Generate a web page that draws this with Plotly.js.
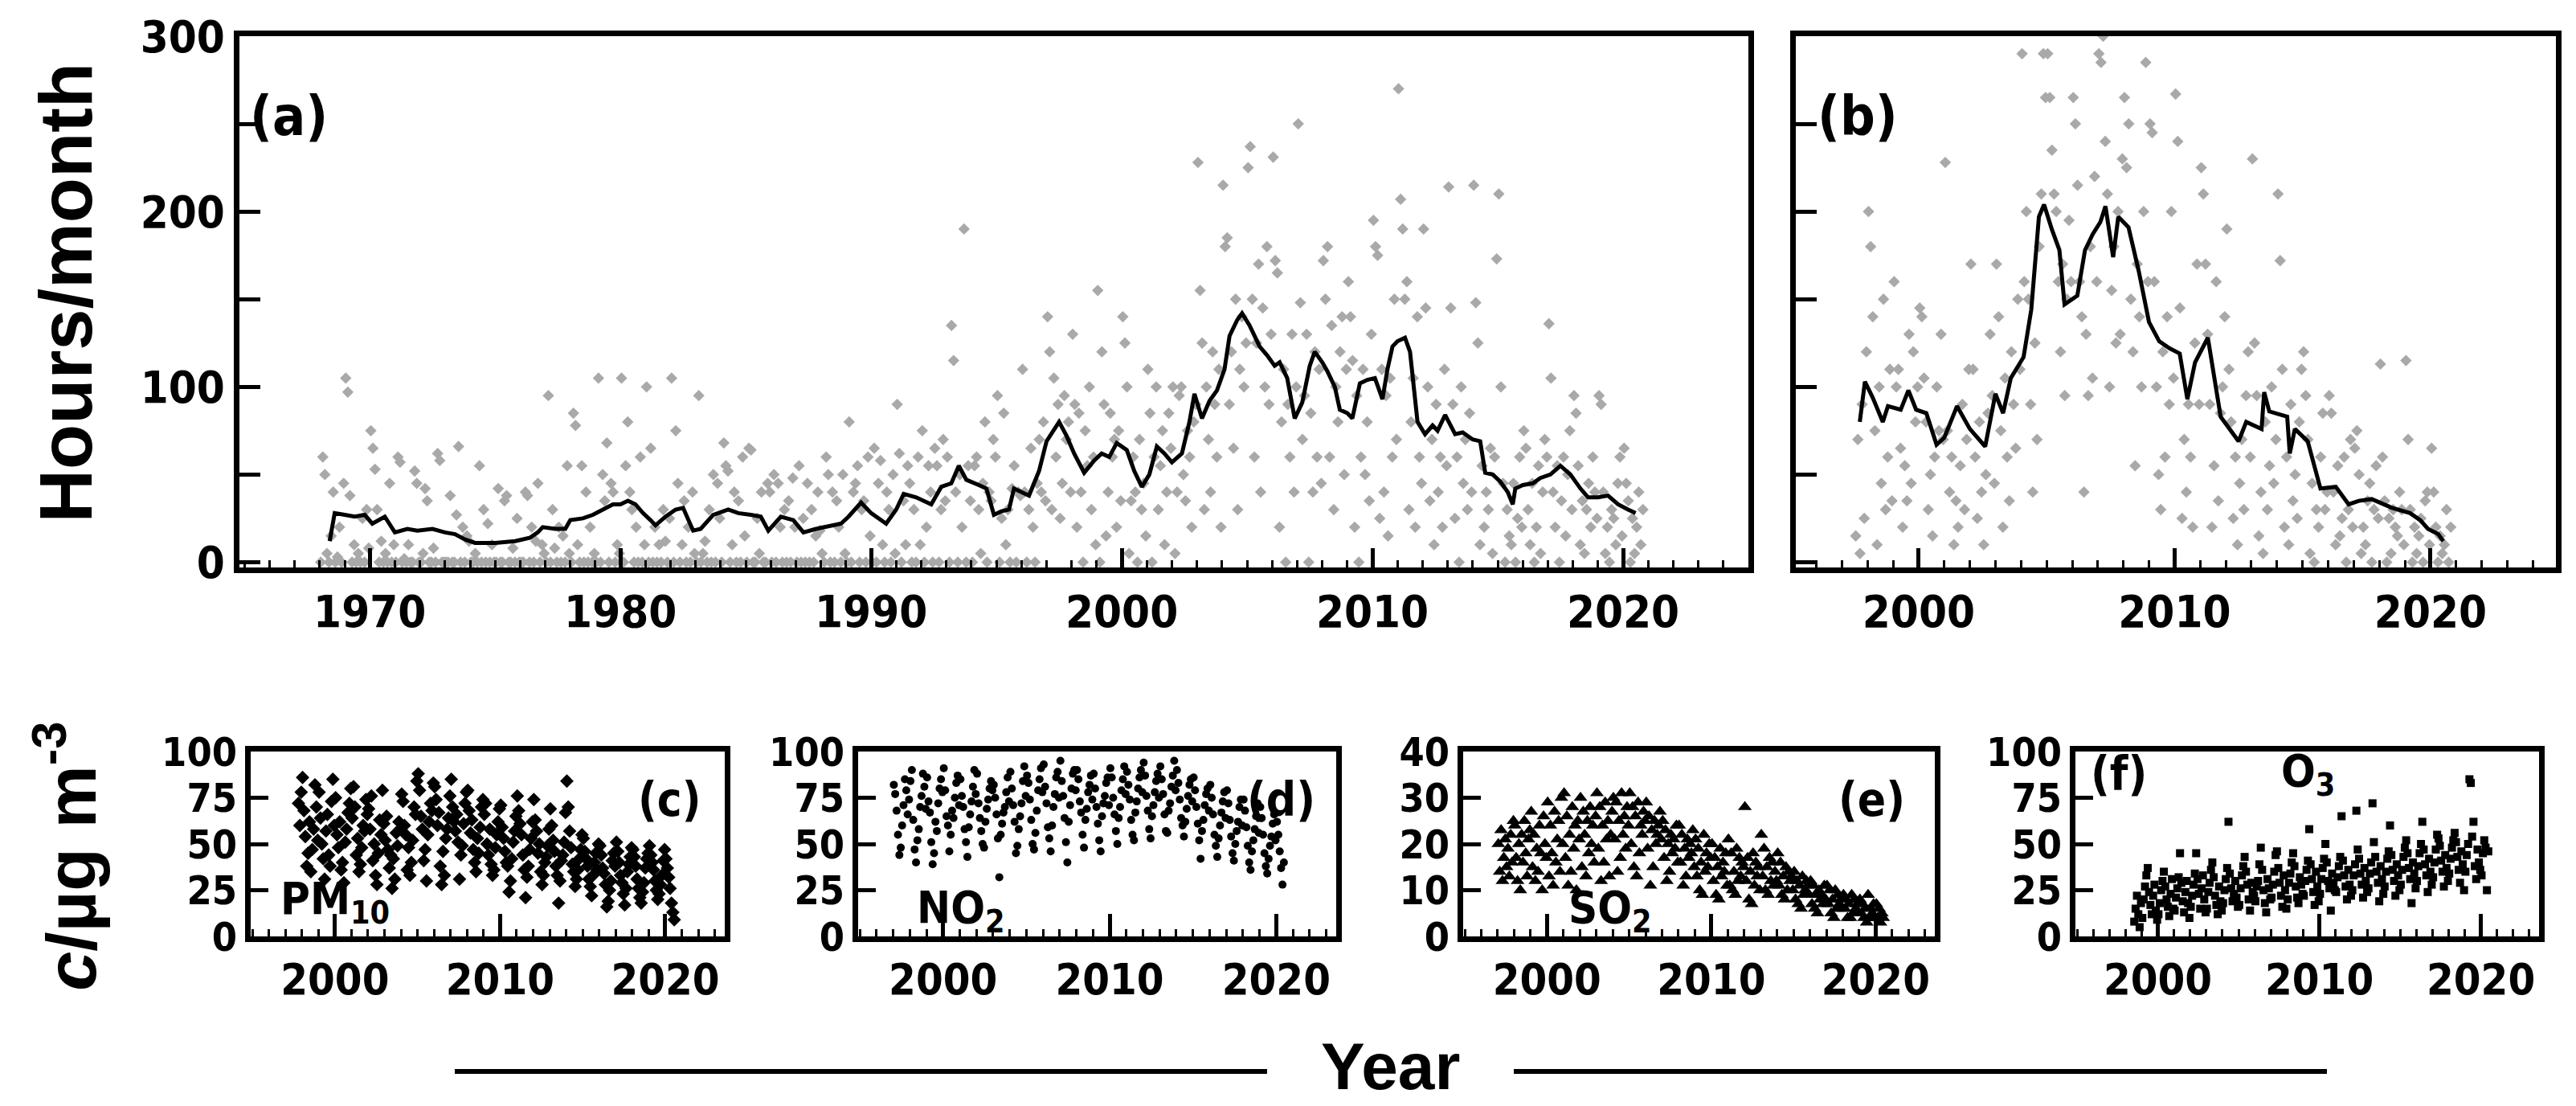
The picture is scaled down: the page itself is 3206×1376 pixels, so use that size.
<!DOCTYPE html>
<html>
<head>
<meta charset="utf-8">
<script src="https://cdn.plot.ly/plotly-3.0.1.min.js"></script>
<style>html,body{margin:0;padding:0;background:#fff;}#chart{width:3206px;height:1376px;}</style>
</head>
<body>
<div id="chart"></div>
<script>
// ---------- DATA ----------
// (a) monthly hours, Jan 1968 .. Oct 2020
const hoursAStart = [1968, 1];
const hoursA = [
 0,60,50,5,0,15,40,0,3,20,0,45,
 105,97,38,0,10,0,5,0,25,0,30,8,
 75,65,53,30,0,12,0,5,0,45,0,10,
 0,60,57,0,2,0,10,0,0,52,45,0,
 0,5,42,35,0,0,8,0,62,58,0,0,
 0,0,38,0,0,27,66,0,20,0,15,12,
 0,0,5,0,55,0,30,0,22,0,10,0,
 0,42,0,0,35,38,0,0,8,0,25,0,
 0,0,40,38,0,20,0,12,45,0,10,5,
 0,95,0,30,8,0,20,0,15,0,55,5,
 0,85,78,10,0,55,0,40,0,20,0,5,
 0,105,0,50,35,68,0,45,40,0,10,5,
 105,0,55,80,40,30,0,20,0,60,0,10,
 100,0,65,0,20,0,10,0,30,12,0,25,
 105,0,75,45,0,10,35,0,20,0,40,5,
 0,95,0,5,12,0,30,0,50,0,45,25,
 0,68,55,52,0,10,40,0,35,0,60,15,
 0,65,64,0,0,25,5,40,0,0,45,40,
 0,50,0,45,20,0,30,0,35,0,48,20,
 0,55,0,25,0,45,0,30,0,15,40,18,
 5,0,60,50,0,40,0,35,20,0,50,5,
 0,80,0,40,45,55,0,30,35,0,60,15,
 0,65,0,45,58,10,0,40,30,0,50,5,
 90,62,0,35,10,55,45,0,30,0,60,10,
 75,0,20,55,40,0,65,55,0,30,70,35,
 60,0,135,115,40,0,50,20,190,0,55,35,
 0,55,60,30,5,45,80,0,40,35,70,60,
 95,0,25,85,10,30,0,42,55,0,40,38,
 110,40,0,30,65,20,0,45,70,40,80,35,
 140,120,30,105,60,90,25,45,95,70,80,40,
 130,90,20,85,40,0,75,55,100,30,60,10,
 155,0,120,90,15,40,85,60,70,20,75,35,
 140,125,100,5,35,60,40,0,70,30,45,15,
 110,85,0,60,100,30,55,75,10,40,85,65,
 100,5,40,95,100,50,35,75,60,20,80,90,
 228,155,125,30,100,70,40,120,90,60,110,20,
 215,180,185,90,120,65,150,30,110,140,100,125,
 225,237,150,60,125,170,40,145,100,180,90,130,
 231,172,165,20,80,110,0,90,60,130,40,100,
 250,148,70,95,130,0,85,40,120,60,110,45,
 172,150,180,60,135,30,100,80,120,140,50,110,
 160,140,115,20,95,0,60,110,50,80,35,130,
 195,180,175,25,110,40,95,15,105,60,150,70,
 270,207,190,150,160,30,80,105,20,140,60,45,
 190,145,100,35,70,10,90,40,60,20,110,55,
 214,145,90,25,60,0,100,45,70,30,85,40,
 215,148,125,10,55,20,40,30,65,5,60,173,
 210,100,45,0,30,15,10,45,0,25,60,20,
 75,65,30,10,45,0,20,55,5,40,70,60,
 136,105,40,20,55,0,35,60,15,50,75,30,
 95,85,55,10,35,5,30,45,20,60,40,25,
 95,90,40,5,20,0,30,25,10,45,60,15,
 65,45,35,0,25,5,20,40,10,30
];
// (a) running-mean line
const lineAx = [1968.4,1968.6,1969.0,1969.4,1969.8,1970.1,1970.6,1971.0,1971.5,1971.9,1972.5,1973.0,1973.4,1973.8,1974.2,1975.0,1975.8,1976.4,1976.7,1976.9,1977.4,1977.8,1978.0,1978.5,1978.9,1979.3,1979.7,1980.0,1980.3,1980.6,1980.9,1981.2,1981.4,1981.8,1982.2,1982.5,1982.9,1983.2,1983.5,1983.7,1984.3,1984.7,1985.2,1985.6,1985.9,1986.4,1986.9,1987.3,1987.8,1988.4,1988.8,1989.1,1989.6,1990.0,1990.6,1991.0,1991.3,1991.8,1992.4,1992.8,1993.2,1993.5,1993.8,1994.3,1994.6,1994.9,1995.2,1995.5,1995.7,1996.0,1996.3,1996.7,1997.0,1997.5,1997.8,1998.1,1998.5,1998.9,1999.2,1999.5,1999.8,2000.2,2000.5,2000.8,2001.1,2001.4,2001.7,2002.0,2002.4,2002.7,2002.9,2003.2,2003.5,2003.8,2004.1,2004.3,2004.6,2004.8,2005.1,2005.5,2005.8,2006.1,2006.3,2006.6,2006.9,2007.2,2007.5,2007.7,2008.0,2008.2,2008.5,2008.7,2009.0,2009.2,2009.5,2009.8,2010.1,2010.4,2010.6,2010.8,2011.0,2011.3,2011.5,2011.8,2012.1,2012.4,2012.6,2012.9,2013.3,2013.6,2014.0,2014.3,2014.5,2014.8,2015.1,2015.4,2015.6,2015.7,2016.0,2016.4,2016.7,2017.1,2017.5,2017.9,2018.3,2018.6,2019.0,2019.4,2019.8,2020.2,2020.5];
const lineAy = [12,28,27,26,27,22,26,17,19,18,19,17,16,13,11,11,12,14,17,20,19,19,24,25,27,30,33,33,35,33,28,24,21,26,30,31,18,19,24,27,30,28,27,26,18,26,24,17,19,21,22,26,34,28,22,30,39,37,33,43,45,55,47,44,42,27,29,30,42,40,38,52,69,80,72,62,51,58,62,60,68,64,52,43,50,66,62,57,62,80,96,82,92,98,110,129,138,142,135,123,118,112,114,105,82,91,112,120,114,109,100,87,85,82,102,104,105,93,110,123,126,128,120,80,73,78,75,84,73,74,70,69,51,50,46,40,33,42,44,45,48,50,55,50,42,37,37,38,33,30,28];

// (b) monthly hours, Jul 1997 .. Oct 2020
const hoursBStart = [1997, 7];
const hoursB = [
 15,70,5,90,25,120,
 200,180,140,75,10,100,45,150,30,60,110,35,
 160,100,110,65,20,55,35,130,45,120,80,100,
 145,140,105,80,30,50,15,60,100,75,130,70,
 228,75,40,60,10,35,20,55,90,30,70,110,
 170,110,60,25,80,40,10,50,85,130,95,45,
 170,140,75,20,105,60,35,120,90,65,150,110,
 290,160,200,150,90,40,125,70,180,210,290,265,
 290,265,235,210,200,160,120,170,95,150,195,160,
 265,250,215,160,140,40,130,95,180,105,220,160,
 290,285,300,240,210,100,155,180,125,200,130,230,
 265,225,250,150,120,55,170,140,100,200,285,160,
 250,245,160,100,50,30,120,60,140,90,200,105,
 267,240,145,25,70,40,90,60,20,125,170,90,
 225,210,170,130,90,20,55,160,35,85,100,140,
 190,110,80,25,60,10,45,70,30,95,120,60,
 230,125,95,15,40,5,80,30,55,100,45,70,
 210,172,110,20,60,10,90,35,50,25,80,110,
 120,95,70,5,45,0,30,20,60,85,30,40,
 95,85,40,10,55,15,25,60,0,30,70,20,
 65,75,50,5,20,10,35,45,0,30,55,25,
 113,60,35,0,25,5,30,20,15,40,30,10,
 115,70,30,0,20,5,15,25,0,35,40,10,
 65,40,20,0,15,5,10,30,0,20
];
const lineBx = [1997.7,1997.9,1998.2,1998.6,1998.8,1999.3,1999.6,1999.9,2000.3,2000.7,2001.0,2001.5,2002.0,2002.6,2003.0,2003.3,2003.6,2004.1,2004.4,2004.7,2004.9,2005.2,2005.5,2005.7,2006.2,2006.5,2006.8,2007.1,2007.3,2007.6,2007.8,2008.2,2008.6,2009.0,2009.4,2009.8,2010.2,2010.5,2010.8,2011.3,2011.8,2012.5,2012.8,2013.4,2013.5,2013.7,2014.4,2014.5,2014.7,2015.2,2015.7,2016.3,2016.8,2017.2,2017.7,2018.5,2019.2,2019.6,2019.9,2020.3,2020.5];
const lineBy = [80,103,94,80,89,87,98,87,85,67,71,89,76,66,96,85,105,117,144,197,204,190,178,147,152,178,187,194,203,174,197,191,166,137,126,122,119,93,114,128,83,69,80,76,97,86,83,62,76,69,42,43,33,35,36,31,28,24,19,16,12];

// (c) PM10, monthly from Oct 1997
const pm10Start = [1997, 10];
const pm10 = [
 72,60,78,
 86,68,54,38,45,62,35,47,58,82,70,52,
 78,64,50,42,31,57,66,44,38,73,85,60,
 75,55,48,62,36,40,29,51,58,67,72,80,
 64,81,70,44,53,35,39,48,60,57,74,66,
 69,58,76,41,50,33,28,45,63,55,79,61,
 52,65,47,37,44,26,42,31,56,49,62,58,
 77,73,60,55,36,48,33,40,52,70,66,84,
 88,79,65,58,41,47,30,55,62,72,68,83,
 81,74,60,67,38,28,46,33,53,58,64,76,
 85,70,62,57,66,51,31,44,49,61,72,78,
 79,68,56,63,47,40,35,53,45,59,70,74,
 66,72,50,44,58,39,33,36,48,55,62,69,
 71,59,53,46,40,38,24,30,42,51,57,65,
 76,68,61,55,44,36,21,32,38,47,53,62,
 74,63,57,45,50,35,28,33,40,43,49,58,
 69,60,52,46,38,33,18,30,41,44,51,67,
 84,70,57,48,39,35,27,31,36,42,47,55,
 53,46,42,38,31,27,22,33,40,45,36,50,
 49,44,37,34,28,16,19,25,30,41,45,38,
 51,46,40,33,29,23,17,26,35,39,43,48,
 47,43,38,31,26,21,18,24,29,37,42,45,
 49,44,40,36,30,25,20,23,28,33,41,47,
 42,37,32,26,18,13,9
];
// (d) NO2, monthly from Jan 1997
const no2Start = [1997, 1];
const no2 = [
 82,77,68,55,44,48,60,71,85,79,66,74,
 84,90,63,47,40,52,58,70,76,88,81,69,
 86,73,67,51,39,45,62,57,72,80,85,78,
 91,79,65,60,46,55,68,64,75,83,87,71,
 85,76,70,58,51,43,59,66,73,81,90,77,
 88,72,64,57,50,48,62,69,74,80,84,79,
 82,75,66,53,32,55,61,67,70,78,86,73,
 89,80,71,62,45,49,58,65,72,84,92,76,
 87,83,74,63,50,47,56,68,79,85,91,78,
 93,81,72,59,53,46,60,70,77,86,89,75,
 95,84,76,64,51,40,62,71,80,88,90,79,
 90,85,73,67,55,48,63,69,78,82,87,74,
 88,80,70,61,52,46,65,72,76,83,86,71,
 91,86,75,66,57,50,64,70,79,85,92,77,
 89,82,74,63,55,52,67,73,80,86,90,78,
 94,87,76,68,58,53,65,71,78,84,88,75,
 92,85,77,66,57,56,68,72,81,87,95,79,
 90,83,74,64,60,54,62,69,76,82,85,73,
 86,79,70,61,52,42,57,63,71,77,80,68,
 82,75,66,55,49,43,53,60,67,73,78,64,
 79,72,63,54,45,41,50,57,62,70,74,60,
 74,68,59,49,40,36,46,52,58,65,72,56,
 70,64,55,45,38,34,42,49,54,61,66,52,
 62,55,46,37,28,40
];
// (e) SO2, monthly from Jan 1997
const so2Start = [1997, 1];
const so2 = [
 20,14,23,12,17,21,15,19,13,22,16,25,
 24,17,12,20,10,22,16,25,18,13,21,23,
 27,15,22,12,19,14,24,18,10,26,20,17,
 29,13,24,18,11,27,16,21,25,14,30,20,
 31,17,26,11,22,14,28,19,24,10,25,21,
 30,15,27,22,13,25,18,28,20,24,16,26,
 31,19,28,12,24,16,29,21,25,13,22,27,
 30,21,29,14,25,17,31,22,26,19,28,24,
 31,20,28,15,26,13,29,18,24,22,27,25,
 29,19,26,11,23,15,25,20,22,24,27,21,
 25,17,23,12,20,14,22,18,21,19,24,16,
 24,16,22,11,19,13,21,17,20,18,23,15,
 21,13,19,10,16,9,22,14,18,15,20,17,
 20,12,17,9,15,8,19,13,16,14,18,11,
 21,11,18,10,14,9,19,12,17,13,16,15,
 28,12,17,8,14,7,18,11,16,13,15,10,
 22,13,19,10,15,9,17,12,16,11,14,12,
 18,11,16,9,13,8,15,10,14,12,13,10,
 14,8,12,7,11,6,13,9,10,12,11,9,
 12,7,11,6,9,5,10,8,9,7,11,8,
 11,7,10,5,8,4,10,6,9,7,8,6,
 9,6,8,4,7,4,9,5,8,6,7,5,
 8,5,7,4,6,3,9,4,6,5,7,4,
 7,4,6,3,5,4
];
// (f) O3, monthly from Jul 1998
const o3Start = [1998, 7];
const o3 = [
 8,15,22,12,5,18,
 10,20,27,33,37,24,17,12,22,28,14,9,
 12,18,25,30,35,27,20,16,11,23,31,15,
 14,21,26,32,45,29,19,13,24,30,18,10,
 16,22,28,34,45,31,23,15,26,33,20,13,
 15,24,29,36,40,32,22,17,12,27,19,14,
 18,25,31,37,62,34,26,19,23,30,21,16,
 17,26,33,38,43,35,28,20,14,29,24,22,
 19,27,30,39,48,36,25,18,13,31,26,20,
 21,28,35,44,46,37,29,22,16,33,25,15,
 20,29,34,40,45,38,27,21,18,32,28,23,
 22,30,36,41,58,39,31,24,17,35,27,19,
 23,31,37,42,50,40,30,26,14,34,29,25,
 24,32,38,43,65,41,33,27,20,36,28,22,
 25,33,39,68,47,42,34,28,21,37,30,24,
 26,34,40,72,51,43,35,29,19,38,31,23,
 27,35,42,46,60,44,36,30,22,39,33,25,
 28,36,43,48,52,45,37,31,18,40,34,26,
 30,38,45,50,62,47,39,33,24,42,35,28,
 32,40,47,55,53,49,41,35,27,44,37,30,
 34,42,48,52,56,51,43,36,29,46,39,25,
 35,44,50,85,83,54,62,38,31,47,40,36,
 33,45,52,48,25,46
];
const ticksTop = [0, 100, 200, 300];
const yearTicksA = [1970, 1980, 1990, 2000, 2010, 2020];
const yearTicksB = [2000, 2010, 2020];

// ---------- helpers ----------
function monthX(start, n) {
  const xs = [];
  for (let i = 0; i < n; i++) xs.push(start[0] + (start[1] - 1 + i) / 12 + 1 / 24);
  return xs;
}
const NARROW = "'Liberation Sans Narrow', 'Arial Narrow', 'DejaVu Sans Condensed', sans-serif";
const SANS = "'Liberation Sans', Arial, sans-serif";
const GRAY = '#a9a9a9';

function ax(o) {
  return Object.assign({
    showline: true, linecolor: 'black', linewidth: 7, mirror: true,
    showgrid: false, zeroline: false, ticks: 'inside', tickcolor: 'black', tickwidth: 5,
    tickfont: {family: NARROW, size: 56, color: 'black', weight: 700},
    fixedrange: true
  }, o);
}

const traces = [
  {x: monthX(hoursAStart, hoursA.length), y: hoursA, xaxis: 'x', yaxis: 'y', type: 'scatter', mode: 'markers',
   marker: {symbol: 'diamond', size: 11, color: GRAY}},
  {x: lineAx, y: lineAy, xaxis: 'x', yaxis: 'y', type: 'scatter', mode: 'lines', line: {color: 'black', width: 5}},
  {x: monthX(hoursBStart, hoursB.length), y: hoursB, xaxis: 'x2', yaxis: 'y2', type: 'scatter', mode: 'markers',
   marker: {symbol: 'diamond', size: 11, color: GRAY}},
  {x: lineBx, y: lineBy, xaxis: 'x2', yaxis: 'y2', type: 'scatter', mode: 'lines', line: {color: 'black', width: 5}},
  {x: monthX(pm10Start, pm10.length), y: pm10, xaxis: 'x3', yaxis: 'y3', type: 'scatter', mode: 'markers',
   marker: {symbol: 'diamond', size: 13, color: 'black'}},
  {x: monthX(no2Start, no2.length), y: no2, xaxis: 'x4', yaxis: 'y4', type: 'scatter', mode: 'markers',
   marker: {symbol: 'circle', size: 10, color: 'black'}},
  {x: monthX(so2Start, so2.length), y: so2, xaxis: 'x5', yaxis: 'y5', type: 'scatter', mode: 'markers',
   marker: {symbol: 'triangle-up', size: 15, color: 'black'}},
  {x: monthX(o3Start, o3.length), y: o3, xaxis: 'x6', yaxis: 'y6', type: 'scatter', mode: 'markers',
   marker: {symbol: 'square', size: 10, color: 'black'}}
];

const W = 3206, H = 1376;
const px = (a, b) => [a / W, b / W];
const py = (top, bot) => [1 - bot / H, 1 - top / H];
const topDom = py(45, 706);
const botDom = py(935, 1165);
const botRange = [1994.9, 2023.6];

function xTop(dom, range, tv) {
  return ax({domain: dom, range: range, tickvals: tv, ticktext: tv.map(String), ticklen: 24,
    minor: {ticks: 'inside', dtick: 1, tick0: 1970, ticklen: 9, tickwidth: 3, tickcolor: 'black'}});
}
function xBot(dom, anchor) {
  return ax({domain: dom, range: botRange, anchor: anchor, tickvals: yearTicksB, ticktext: yearTicksB.map(String), ticklen: 28,
    tickfont: {family: NARROW, size: 54, color: 'black', weight: 700},
    minor: {ticks: 'inside', dtick: 1, tick0: 2000, ticklen: 9, tickwidth: 3, tickcolor: 'black'}});
}
function yBot(anchor, range, dt) {
  return ax({domain: botDom, anchor: anchor, range: range, dtick: dt, tick0: 0, ticklen: 22,
    tickfont: {family: NARROW, size: 50, color: 'black', weight: 700}});
}

const ann = (xref, yref, x, y, text, size, xanchor, extra) => Object.assign({
  xref: xref, yref: yref, x: x, y: y, text: text, showarrow: false, xanchor: xanchor, yanchor: 'middle',
  font: {family: NARROW, size: size, color: 'black', weight: 700}}, extra || {});

const layout = {
  width: W, height: H, margin: {l: 0, r: 0, t: 0, b: 0}, showlegend: false,
  paper_bgcolor: 'white', plot_bgcolor: 'white',
  xaxis: xTop(px(298, 2176), [1964.8, 2025], yearTicksA),
  yaxis: ax({domain: topDom, range: [-3, 300], tickvals: ticksTop, ticktext: ticksTop.map(String), ticklen: 26,
    minor: {ticks: 'inside', dtick: 50, tick0: 0, ticklen: 26, tickwidth: 5, tickcolor: 'black'}}),
  xaxis2: Object.assign(xTop(px(2235, 3181), [1995.2, 2024.9], yearTicksB), {anchor: 'y2'}),
  yaxis2: ax({domain: topDom, anchor: 'x2', range: [-3, 300], dtick: 50, tick0: 0, ticklen: 26, showticklabels: false}),
  xaxis3: xBot(px(312, 902), 'y3'),
  yaxis3: yBot('x3', [0, 100], 25),
  xaxis4: xBot(px(1068, 1663), 'y4'),
  yaxis4: yBot('x4', [0, 100], 25),
  xaxis5: xBot(px(1821, 2408), 'y5'),
  yaxis5: yBot('x5', [0, 40], 10),
  xaxis6: xBot(px(2583, 3160), 'y6'),
  yaxis6: yBot('x6', [0, 100], 25),
  annotations: [
    ann('x domain', 'y domain', 0.006, 0.85, '(a)', 68, 'left'),
    ann('x2 domain', 'y2 domain', 0.026, 0.85, '(b)', 68, 'left'),
    ann('x3 domain', 'y3 domain', 0.955, 0.74, '(c)', 58, 'right'),
    ann('x3 domain', 'y3 domain', 0.06, 0.19, 'PM<sub>10</sub>', 56, 'left'),
    ann('x4 domain', 'y4 domain', 0.96, 0.74, '(d)', 58, 'right'),
    ann('x4 domain', 'y4 domain', 0.12, 0.14, 'NO<sub>2</sub>', 56, 'left'),
    ann('x5 domain', 'y5 domain', 0.94, 0.74, '(e)', 58, 'right'),
    ann('x5 domain', 'y5 domain', 0.22, 0.14, 'SO<sub>2</sub>', 56, 'left'),
    ann('x6 domain', 'y6 domain', 0.03, 0.88, '(f)', 58, 'left'),
    ann('x6 domain', 'y6 domain', 0.44, 0.88, 'O<sub>3</sub>', 56, 'left'),
    ann('paper', 'paper', 0.0255, 0.735, 'Hours/month', 92, 'center', {textangle: -90, font: {family: SANS, size: 92, color: 'black', weight: 700}}),
    ann('paper', 'paper', 0.0255, 0.226, '<i>c</i>/µg m<sup>-3</sup>', 88, 'center', {textangle: -90, font: {family: SANS, size: 88, color: 'black', weight: 700}}),
    ann('paper', 'paper', 1730 / W, 1 - 1326 / H, 'Year', 82, 'center', {font: {family: SANS, size: 82, color: 'black', weight: 700}})
  ],
  shapes: [
    {type: 'line', xref: 'paper', yref: 'paper', x0: 566 / W, x1: 1577 / W, y0: 1 - 1333 / H, y1: 1 - 1333 / H, line: {color: 'black', width: 6}},
    {type: 'line', xref: 'paper', yref: 'paper', x0: 1884 / W, x1: 2896 / W, y0: 1 - 1333 / H, y1: 1 - 1333 / H, line: {color: 'black', width: 6}}
  ]
};

Plotly.newPlot('chart', traces, layout, {staticPlot: true, displayModeBar: false});
</script>
</body>
</html>
